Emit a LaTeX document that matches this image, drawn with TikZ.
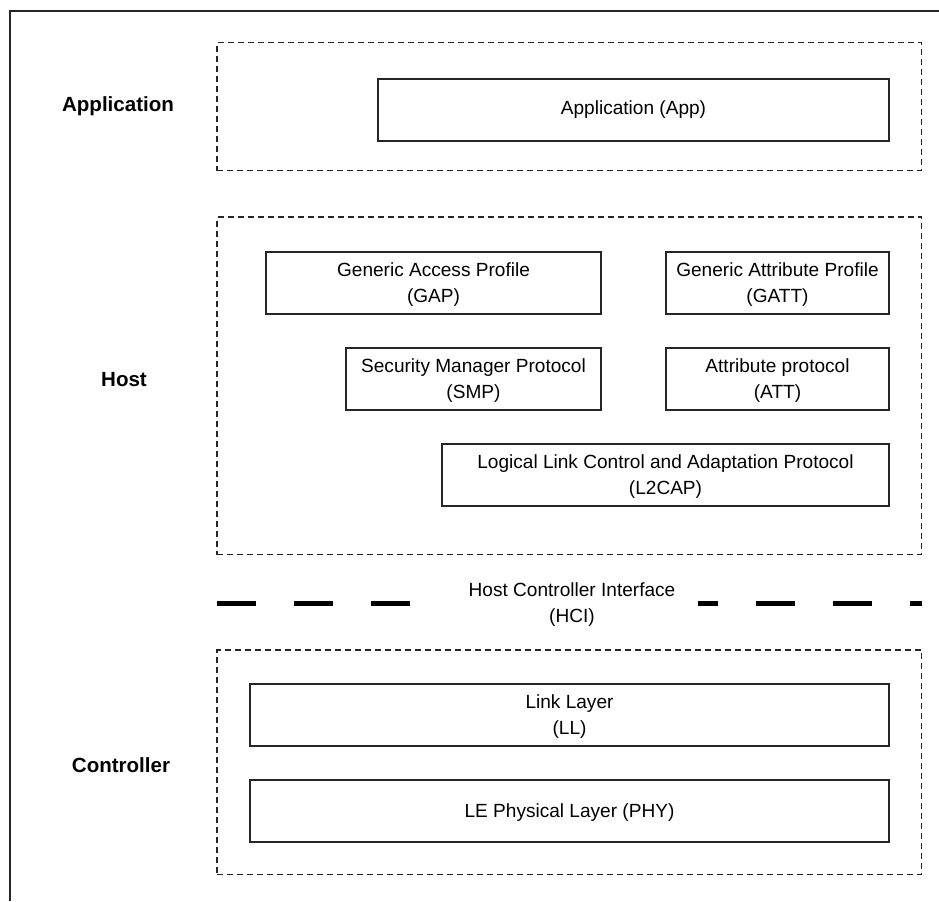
\documentclass[tikz,border=0pt]{standalone}
\usepackage{fontspec}
\setmainfont{Liberation Sans}
\usetikzlibrary{fit}
\tikzset{
  x=0.75pt, y=-0.75pt,
  solidbox/.style={draw=black!85, line width=1.5pt, inner sep=0pt, align=center,
    font=\fontsize{14.3}{19.5}\selectfont, minimum height=46.5pt, text depth=0pt},
  twoline/.style={text depth=-5pt},
  groupbox/.style={draw=black!85, line width=1.4pt, dash pattern=on 4.5pt off 3pt, inner sep=0pt},
  layerlabel/.style={font=\fontsize{15.4}{18}\selectfont\bfseries},
  hciline/.style={line width=3.75pt, dash pattern=on 29.25pt off 28.5pt, line cap=butt},
  hcitext/.style={align=center, font=\fontsize{14.3}{19.5}\selectfont},
  frame/.style={draw=black!85, line width=1.5pt}
}
\begin{document}
\begin{tikzpicture}
\useasboundingbox (0,0) rectangle (939,901);
% outer frame (only top and left edges visible)
\coordinate (fBL) at (9.5,901);
\coordinate (fTL) at (9.5,10.5);
\coordinate (fTR) at (939,10.5);
\draw[frame] (fBL) -- (fTL) -- (fTR);

% group boxes
\node[groupbox, fit={(217,42.5) (921.5,170.5)}] (appgrp) {};
\node[groupbox, fit={(217,217) (921.5,554.5)}] (hostgrp) {};
\node[groupbox, fit={(217,650) (921.5,874.5)}] (ctrlgrp) {};

% layer labels
\node[layerlabel] (lapp) at (118,106) {Application};
\node[layerlabel] (lhost) at (124,380) {Host};
\node[layerlabel] (lctrl) at (121,765) {Controller};

% boxes
\node[solidbox, text depth=3pt, minimum width=383.25pt] (app) at (633.5,109.5) {Application (App)};
\node[solidbox, twoline, minimum width=251.25pt] (gap) at (433.5,283) {Generic Access Profile\\(GAP)};
\node[solidbox, twoline, minimum width=167.25pt] (gatt) at (777.5,283) {Generic Attribute Profile\\(GATT)};
\node[solidbox, twoline, minimum width=191.25pt] (smp) at (473.5,379) {Security Manager Protocol\\(SMP)};
\node[solidbox, twoline, minimum width=167.25pt] (att) at (777.5,379) {Attribute protocol\\(ATT)};
\node[solidbox, twoline, minimum width=335.25pt] (l2cap) at (665.5,475) {Logical Link Control and Adaptation Protocol\\(L2CAP)};
\node[solidbox, twoline, minimum width=479.25pt] (ll) at (569.5,715) {Link Layer\\(LL)};
\node[solidbox, minimum width=479.25pt] (phy) at (569.5,811) {LE Physical Layer (PHY)};

% HCI line
\coordinate (hciA) at (217,603);
\coordinate (hciB) at (410,603);
\coordinate (hciC) at (698,603);
\coordinate (hciD) at (922,603);
\draw[hciline] (hciA) -- (hciB);
\draw[hciline, dash phase=14.25pt] (hciC) -- (hciD);
\node[hcitext] (hci) at (572,605) {Host Controller Interface\\(HCI)};
\end{tikzpicture}
\end{document}
